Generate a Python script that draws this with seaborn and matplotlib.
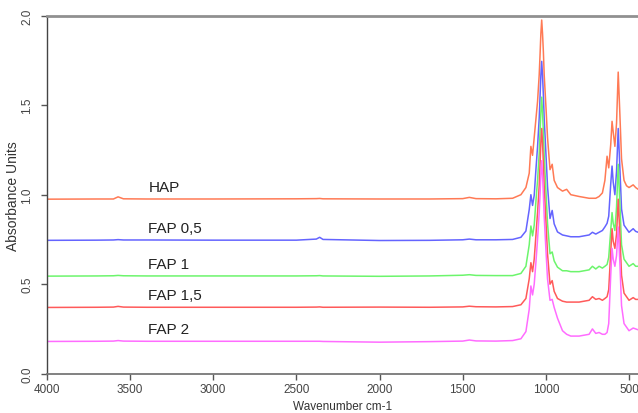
import pandas as pd
import matplotlib
matplotlib.use("Agg")
import matplotlib.pyplot as plt
import seaborn as sns

# wavenumber grid (cm-1) shared by all spectra
wavenumber = [4000, 3700, 3600, 3572, 3540, 3400, 3000, 2500, 2380, 2360, 2340,
              2000, 1700, 1500, 1460, 1420, 1300, 1200, 1150, 1120, 1100, 1090,
              1080, 1070, 1060, 1050, 1040, 1035, 1030, 1025, 1020, 1015, 1010,
              1000, 990, 975, 962, 950, 930, 900, 875, 850, 800, 740, 720, 700,
              680, 660, 645, 632, 622, 610, 602, 595, 585, 575, 565, 555, 545,
              530, 515, 500, 475, 460, 445]

hap = [0.975, 0.976, 0.976, 0.988, 0.977, 0.976, 0.976, 0.977, 0.978, 0.979, 0.977,
       0.976, 0.976, 0.978, 0.985, 0.978, 0.977, 0.98, 1.0, 1.04, 1.12, 1.27,
       1.22, 1.32, 1.42, 1.52, 1.67, 1.78, 1.9, 1.976, 1.9, 1.8, 1.67,
       1.5, 1.32, 1.14, 1.17, 1.08, 1.04, 1.02, 1.03, 1.0, 0.99, 0.98, 0.98, 0.98,
       0.99, 1.01, 1.08, 1.215, 1.15, 1.28, 1.41, 1.35, 1.27, 1.4, 1.685, 1.45, 1.2,
       1.08, 1.05, 1.04, 1.055, 1.04, 1.03]

fap05 = [0.745, 0.746, 0.747, 0.749, 0.747, 0.747, 0.746, 0.746, 0.752, 0.762, 0.75,
         0.744, 0.745, 0.748, 0.752, 0.748, 0.748, 0.75, 0.762, 0.797, 0.917, 1.0,
         0.94, 0.997, 1.137, 1.267, 1.427, 1.547, 1.667, 1.745, 1.667, 1.557, 1.427,
         1.237, 1.047, 0.867, 0.912, 0.837, 0.792, 0.775, 0.77, 0.765, 0.765, 0.775, 0.79, 0.78,
         0.79, 0.8, 0.82, 0.84, 0.88, 1.06, 1.16, 1.07, 1.0, 1.13, 1.37, 1.15, 0.92,
         0.83, 0.81, 0.79, 0.81, 0.795, 0.79]

fap1 = [0.545, 0.546, 0.547, 0.549, 0.547, 0.546, 0.546, 0.546, 0.547, 0.548, 0.546,
        0.544, 0.546, 0.55, 0.553, 0.549, 0.548, 0.548, 0.56, 0.6, 0.72, 0.825,
        0.77, 0.83, 0.96, 1.08, 1.23, 1.35, 1.46, 1.545, 1.46, 1.35, 1.22,
        1.03, 0.84, 0.67, 0.68, 0.63, 0.595, 0.575, 0.575, 0.57, 0.57, 0.58, 0.6, 0.585,
        0.6, 0.59, 0.6, 0.61, 0.65, 0.8, 0.9, 0.84, 0.8, 0.93, 1.17, 0.95, 0.72,
        0.64, 0.62, 0.6, 0.615, 0.6, 0.6]

fap15 = [0.37, 0.371, 0.372, 0.376, 0.372, 0.371, 0.371, 0.371, 0.372, 0.373, 0.371,
         0.372, 0.371, 0.373, 0.377, 0.374, 0.373, 0.375, 0.385, 0.42, 0.53, 0.62,
         0.57, 0.64, 0.77, 0.9, 1.05, 1.17, 1.29, 1.37, 1.29, 1.18, 1.05,
         0.86, 0.67, 0.5, 0.52, 0.46, 0.42, 0.405, 0.4, 0.4, 0.4, 0.41, 0.43, 0.415,
         0.42, 0.41, 0.42, 0.43, 0.47, 0.68, 0.81, 0.74, 0.7, 0.78, 0.975, 0.78, 0.55,
         0.45, 0.43, 0.41, 0.425, 0.415, 0.415]

fap2 = [0.18, 0.181, 0.182, 0.185, 0.182, 0.181, 0.181, 0.181, 0.181, 0.181, 0.18,
        0.176, 0.179, 0.182, 0.188, 0.183, 0.182, 0.185, 0.195, 0.235, 0.36, 0.49,
        0.44, 0.5, 0.62, 0.75, 0.9, 1.0, 1.11, 1.19, 1.11, 1.0, 0.88,
        0.7, 0.53, 0.41, 0.415, 0.37, 0.31, 0.24, 0.22, 0.21, 0.21, 0.22, 0.25, 0.225,
        0.23, 0.22, 0.22, 0.23, 0.28, 0.55, 0.7, 0.64, 0.6, 0.66, 0.82, 0.62, 0.38,
        0.28, 0.26, 0.24, 0.255, 0.25, 0.245]

samples = ['HAP', 'FAP 0,5', 'FAP 1', 'FAP 1,5', 'FAP 2']
spectra = [hap, fap05, fap1, fap15, fap2]
baselines = [0.976, 0.747, 0.545, 0.372, 0.182]
colors = {'HAP': '#FF7A55', 'FAP 0,5': '#6464FF', 'FAP 1': '#6CF56C',
          'FAP 1,5': '#FF5A5A', 'FAP 2': '#FF6CFF'}

rows = []
for name, values in zip(samples, spectra):
    for w, a in zip(wavenumber, values):
        rows.append({'wavenumber': w, 'absorbance': a, 'sample': name})
df = pd.DataFrame(rows)

sns.set_style('white')
plt.rcParams['font.family'] = ['Liberation Sans', 'DejaVu Sans']

fig = plt.figure(figsize=(6.38, 4.14), dpi=100)
ax = fig.add_axes([0.0735, 0.095, 0.9265, 0.8646])

sns.lineplot(data=df, x='wavenumber', y='absorbance', hue='sample',
             palette=colors, sort=False, estimator=None, legend=False,
             linewidth=1.1, ax=ax)

for name, base in zip(samples, baselines):
    ax.text(3390, base + 0.027, name, ha='left', va='bottom',
            fontsize=11, color='#222222')

ax.set_xlim(4000, 446)
ax.set_ylim(0, 2.0)
ax.set_xticks([4000, 3500, 3000, 2500, 2000, 1500, 1000, 500])
ax.set_yticks([0.0, 0.5, 1.0, 1.5, 2.0])
ax.set_yticklabels(['0.0', '0.5', '1.0', '1.5', '2.0'], rotation=90, va='center')
ax.tick_params(axis='both', direction='out', length=4, width=1, color='#555555',
               labelsize=8.5, labelcolor='#444444', pad=3)
ax.tick_params(axis='y', pad=6)
ax.tick_params(left=True, bottom=True)

ax.set_xlabel('Wavenumber cm-1', fontsize=8.5, color='#333333', labelpad=3)
ax.set_ylabel('Absorbance Units', fontsize=10, color='#333333', labelpad=1)

ax.spines['right'].set_visible(False)
ax.spines['top'].set_color('#909090')
ax.spines['top'].set_linewidth(2)
ax.spines['left'].set_color('#444444')
ax.spines['left'].set_linewidth(1)
ax.spines['bottom'].set_color('#777777')
ax.spines['bottom'].set_linewidth(1.3)
ax.grid(False)

fig.savefig('out.png', dpi=100)
